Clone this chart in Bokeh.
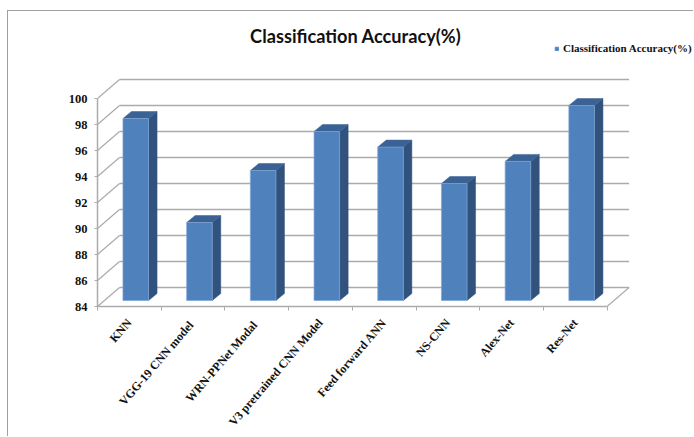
from bokeh.core.properties import value
from bokeh.embed import file_html
from bokeh.resources import INLINE
from bokeh.plotting import figure
from bokeh.models import (FixedTicker, Range1d, Legend, LegendItem, Label, ColumnDataSource)

categories = ["KNN", "VGG-19 CNN  model", "WRN-PPNet  Modal", "V3 pretrained CNN Model",
              "Feed forward ANN", "NS-CNN", "Alex-Net", "Res-Net"]
accuracy = [98.0, 90.0, 94.0, 97.0, 95.8, 93.0, 94.7, 99.0]
y_ticks = [84, 86, 88, 90, 92, 94, 96, 98, 100]
series_name = "Classification Accuracy(%)"
chart_title = "Classification Accuracy(%)"

# 3-D look: depth of the wall and of the bars, in axis units
UX, UY = 63.7, 13.0   # pixels per category, per percentage point
WALL_DX, WALL_DY = 22 / UX, 19 / UY
BAR_DX, BAR_DY = 6.4 / UX, 6 / UY
SIDE_DX, SIDE_DY = 8.5 / UX, 7 / UY
BAR_W = 25.6 / UX

GRID = "#ababab"
FRONT, SIDE, TOP = "#4f81bd", "#30527d", "#3a6294"

W, H = 686, 426
LEFT, BOTTOM = 89, 131
p = figure(width=W, height=H, output_backend="svg", toolbar_location=None,
           x_range=Range1d(0, (W - LEFT) / UX), y_range=Range1d(84, 84 + (H - BOTTOM) / UY),
           min_border_left=LEFT, min_border_right=0, min_border_top=0, min_border_bottom=BOTTOM,
           background_fill_color="white", border_fill_color="white")
p.outline_line_color = None
p.grid.visible = False
p.styles = {"margin-left": "7px", "margin-top": "10px",
            "border-left": "1.5px solid #a0a0a0", "border-top": "1.5px solid #a0a0a0"}

# Title
p.add_layout(Label(x=(355.5 - 97.3) / UX, y=84 + (306 - 35) / UY, text=chart_title,
                   text_align="center", text_baseline="middle",
                   text_font="Lato", text_font_style="bold", text_font_size="18.2px",
                   text_color="#111111"))

# Axes
xa = p.xaxis[0]
xa.bounds = (0, 8)
xa.ticker = FixedTicker(ticks=[i + 0.5 for i in range(len(categories))],
                        minor_ticks=list(range(len(categories) + 1)))
xa.major_label_overrides = {i + 0.5: c for i, c in enumerate(categories)}
xa.major_label_orientation = 0.86
xa.major_tick_line_color = None
xa.minor_tick_out = 4
xa.minor_tick_in = 0
xa.minor_tick_line_color = GRID
xa.axis_line_color = GRID
xa.axis_line_width = 1.5
xa.major_label_text_font = "Liberation Serif"
xa.major_label_text_font_style = "bold"
xa.major_label_text_font_size = "12px"
xa.major_label_text_color = "#111111"
xa.major_label_standoff = 8

ya = p.yaxis[0]
ya.bounds = (84, 100)
ya.ticker = FixedTicker(ticks=y_ticks)
ya.major_tick_out = 3
ya.major_tick_in = 0
ya.major_tick_line_color = GRID
ya.minor_tick_line_color = None
ya.axis_line_color = GRID
ya.axis_line_width = 1.5
ya.major_label_text_font = "Liberation Serif"
ya.major_label_text_font_style = "bold"
ya.major_label_text_font_size = "12.5px"
ya.major_label_text_color = "#111111"
ya.major_label_standoff = 7

# Back wall lines and left wall diagonals
p.multi_line(xs=[[WALL_DX, 8 + WALL_DX] for _ in y_ticks],
             ys=[[v + WALL_DY, v + WALL_DY] for v in y_ticks],
             line_color=GRID, line_width=1.6)
p.multi_line(xs=[[0, WALL_DX] for _ in y_ticks],
             ys=[[v, v + WALL_DY] for v in y_ticks],
             line_color=GRID, line_width=1.2)
# Floor edge on the right
p.line([8, 8 + WALL_DX], [84, 84 + WALL_DY], line_color=GRID, line_width=1.2)

# Bars
n = range(len(categories))
lefts = [i + 0.5 + BAR_DX - BAR_W / 2 for i in n]
rights = [l + BAR_W for l in lefts]
tops = [v + BAR_DY for v in accuracy]
base = 84 + BAR_DY

p.patches(xs=[[r, r + SIDE_DX, r + SIDE_DX, r] for r in rights],
          ys=[[base, base + SIDE_DY, t + SIDE_DY, t] for t in tops],
          fill_color=SIDE, line_color=SIDE, line_width=0.5)
p.patches(xs=[[l, l + SIDE_DX, r + SIDE_DX, r] for l, r in zip(lefts, rights)],
          ys=[[t, t + SIDE_DY, t + SIDE_DY, t] for t in tops],
          fill_color=TOP, line_color=TOP, line_width=0.5)
front = p.quad(source=ColumnDataSource(dict(left=lefts, right=rights, top=tops,
                                            bottom=[base] * len(tops))),
               left="left", right="right", top="top", bottom="bottom",
               fill_color=FRONT, line_color="#7fa6d6", line_width=0.7)

# Legend
legend = Legend(items=[LegendItem(label=value(series_name), renderers=[front])],
                location=(457, 252), orientation="vertical",
                padding=0, margin=0, spacing=0, glyph_width=5, glyph_height=5,
                label_standoff=4, border_line_color=None, background_fill_alpha=0,
                label_text_font="Liberation Serif", label_text_font_style="bold",
                label_text_font_size="11px", label_text_color="#111111",
                label_height=12)
p.add_layout(legend, "center")

open("out.html", "w").write(file_html(p, INLINE))
